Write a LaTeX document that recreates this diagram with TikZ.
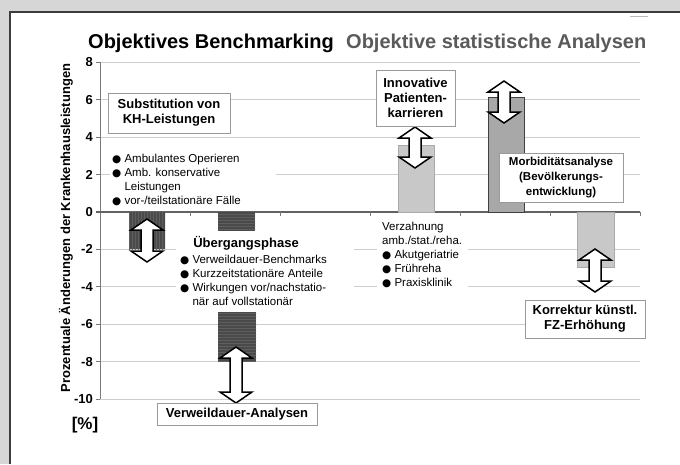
\documentclass[tikz,border=0pt]{standalone}
\usepackage{fontspec}
\setmainfont{Liberation Sans}
\newfontfamily\dejavu{DejaVu Sans}
\usetikzlibrary{patterns}
\definecolor{bgc}{HTML}{D6D6D6}
\definecolor{framec}{HTML}{3C3C3C}
\definecolor{gridc}{HTML}{CDCDCD}
\definecolor{axisc}{HTML}{7A7A7A}
\definecolor{darkbar}{HTML}{4A4A4A}
\definecolor{hatchc}{HTML}{5E5E5E}
\definecolor{lightbar}{HTML}{C8C8C8}
\definecolor{midbar}{HTML}{A8A8A8}
\definecolor{boxc}{HTML}{9A9A9A}
\definecolor{titlegrey}{HTML}{5A5A5A}
\newcommand\bul{{\dejavu\fontsize{10.5}{10.5}\selectfont ●}}
\newcommand\bsp{\phantom{\bul}\ }
\newcommand\DArr[3]{\draw[darrow] (#1,#2) -- ++(16,11) -- ++(-10,0) -- (#1+6,#3-11) -- ++(10,0) -- (#1,#3) -- ++(-16,-11) -- ++(10,0) -- (#1-6,#2+11) -- ++(-10,0) -- cycle;}
\begin{document}
\begin{tikzpicture}[x=1pt,y=-1pt,
  gridl/.style={draw=gridc,line width=0.9},
  boxnode/.style={draw=boxc,fill=white,line width=0.8,align=center,inner sep=0pt,
     font=\bfseries\fontsize{13}{15}\selectfont},
  lst/.style={anchor=north west,align=left,inner sep=1pt,font=\fontsize{11.5}{14}\selectfont},
  ticklab/.style={anchor=east,inner sep=0pt,font=\bfseries\fontsize{13}{15}\selectfont},
  darrow/.style={draw=black,fill=white,line width=1.5,line join=miter},
  dbar/.style={preaction={fill=darkbar},pattern color=hatchc},
  lbar/.style={fill=lightbar,draw=lightbar!85!black,line width=0.5},
  mbar/.style={fill=midbar,draw=black!75,line width=0.8}]
\useasboundingbox (0,0) rectangle (680,464);
% frame
\fill[bgc] (0,0) rectangle (680,464);
\fill[white] (10,12) rectangle (680,464);
\draw[framec,line width=1.6] (10,464) -- (10,12) -- (680,12);
\draw[gray!55,line width=1] (630,16) -- (648,16);
% titles
\node[anchor=west,inner sep=0pt,font=\bfseries\fontsize{20}{24}\selectfont] (t1) at (88,43) {Objektives Benchmarking};
\node[anchor=west,inner sep=0pt,text=titlegrey,font=\bfseries\fontsize{20}{24}\selectfont] (t2) at (346,43) {Objektive statistische Analysen};
% grid
\foreach \v in {8,6,4,2,-2,-4,-6,-8,-10}{
  \draw[gridl] (100,{212-18.7*\v}) -- (640,{212-18.7*\v});
  \draw[axisc,line width=0.9] (96,{212-18.7*\v}) -- (100,{212-18.7*\v});
}
\foreach \v [count=\k] in {8,6,4,2,0,-2,-4,-6,-8,-10}{
  \node[ticklab] (tick\k) at (93,{212-18.7*\v}) {\v};
}
% white areas behind text
\fill[white] (110,152) rectangle (276,209);
\fill[white] (176,233) rectangle (354,311);
\fill[white] (377,220) rectangle (468,291);
% axes
\draw[axisc,line width=1] (100,62.4) -- (100,399);
\draw[axisc!80!black,line width=1.1] (96,212) -- (640,212);
\foreach \x in {190,280,370,460,550,640}{
  \draw[axisc,line width=0.9] (\x,212) -- (\x,216);
}
% axis labels
\node[rotate=90,inner sep=0pt,font=\bfseries\fontsize{13}{15}\selectfont] (ylab) at (66,228) {Prozentuale Änderungen der Krankenhausleistungen};
\node[inner sep=0pt,font=\bfseries\fontsize{17}{20}\selectfont] (unit) at (85,425) {[\%]};
% bars
\path[dbar,pattern=vertical lines] (129,212) rectangle (165,249);
\path[dbar,pattern=horizontal lines] (218,212) rectangle (255,231);
\path[dbar,pattern=horizontal lines] (218,312) rectangle (256,362);
\path[lbar] (398,145) rectangle (434,212);
\path[mbar] (488,97) rectangle (524,212);
\path[lbar] (577,212) rectangle (614,267);
% arrows
\DArr{147}{219}{262}
\DArr{236}{347}{403}
\DArr{415}{127}{168}
\DArr{504}{81}{123}
\DArr{595}{249}{292}
% boxes
\node[boxnode,minimum width=122,minimum height=40] (sub) at (169,113) {Substitution von\\KH-Leistungen};
\node[boxnode,minimum width=79,minimum height=56] (inno) at (415.5,98) {Innovative\\Patienten-\\karrieren};
\node[boxnode,minimum width=124,minimum height=49,font=\bfseries\fontsize{11.5}{15}\selectfont] (morb) at (561,177.5) {Morbiditätsanalyse\\(Bevölkerungs-\\entwicklung)};
\node[boxnode,minimum width=120,minimum height=38] (korr) at (585,319) {Korrektur künstl.\\FZ-Erhöhung};
\node[boxnode,minimum width=160,minimum height=22] (vda) at (237,414) {Verweildauer-Analysen};
% text blocks
\node[lst] (l1) at (111,153) {\bul\ Ambulantes Operieren\\\bul\ Amb. konservative\\\bsp Leistungen\\\bul\ vor-/teilstationäre Fälle};
\node[inner sep=0pt,font=\bfseries\fontsize{13}{15}\selectfont] (ueb) at (246,243) {Übergangsphase};
\node[lst] (l2) at (179,254) {\bul\ Verweildauer-Benchmarks\\\bul\ Kurzzeitstationäre Anteile\\\bul\ Wirkungen vor/nachstatio-\\\bsp när auf vollstationär};
\node[lst] (l3) at (381,221) {Verzahnung\\amb./stat./reha.\\\bul\ Akutgeriatrie\\\bul\ Frühreha\\\bul\ Praxisklinik};
\end{tikzpicture}
\end{document}
